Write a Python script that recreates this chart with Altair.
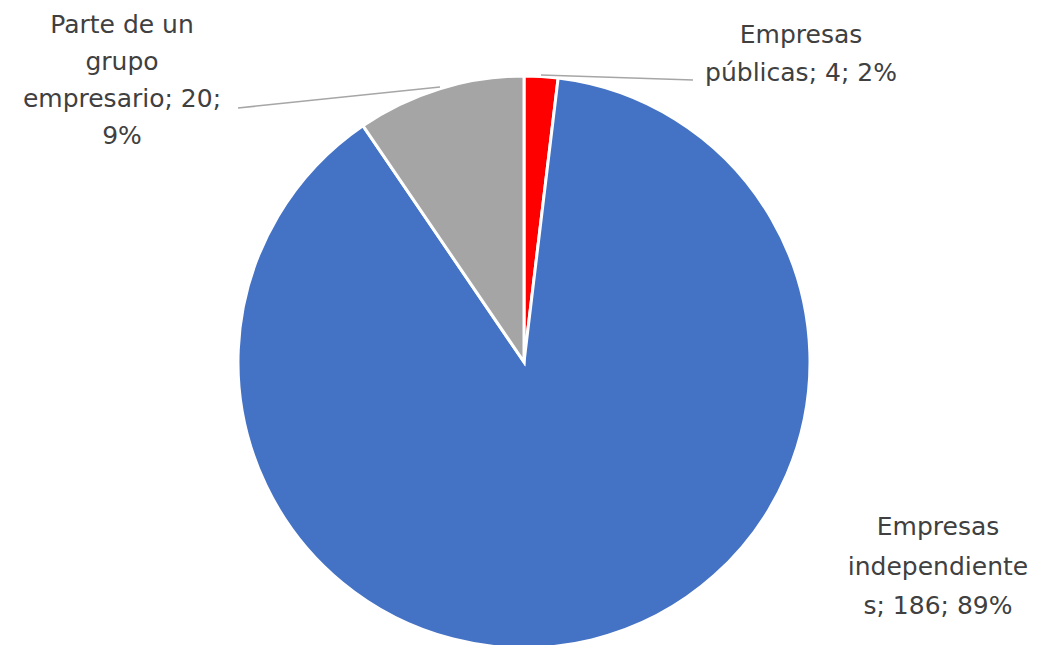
import altair as alt
import pandas as pd

# Data
categories = ["Empresas públicas", "Empresas independientes", "Parte de un grupo empresario"]
values = [4, 186, 20]
percents = ["2%", "89%", "9%"]
colors = ["#FF0000", "#4472C4", "#A5A5A5"]
label_texts = [
    "Empresas\npúblicas; 4; 2%",
    "Empresas\nindependiente\ns; 186; 89%",
    "Parte de un\ngrupo\nempresario; 20;\n9%",
]

# Layout (pixels in plot area; plot origin is page (8, 8))
W, H = 1035, 637
CX, CY, R = 516, 354, 286
label_x = [793, 930, 114]
label_y = [15, 507, 5]
label_lh = [38, 39.5, 37]
line_x1 = [533, None, 230]
line_y1 = [67, None, 100]
line_x2 = [685, None, 432]
line_y2 = [72, None, 79]

pie_df = pd.DataFrame({"cat": categories, "value": values, "order": [0, 1, 2]})
lab_df = pd.DataFrame({"text": label_texts, "lx": label_x, "ly": label_y, "lh": label_lh})
lines_df = pd.DataFrame({"x1": line_x1, "y1": line_y1, "x2": line_x2, "y2": line_y2}).dropna()

pie = alt.Chart(pie_df).mark_arc(outerRadius=R, stroke="white", strokeWidth=3).encode(
    theta=alt.Theta("value:Q", stack=True),
    order=alt.Order("order:Q"),
    color=alt.Color("cat:N", scale=alt.Scale(domain=categories, range=colors), legend=None),
    x=alt.value(CX),
    y=alt.value(CY),
)

leaders = alt.Chart(lines_df).mark_rule(color="#A6A6A6", strokeWidth=1.5).encode(
    x=alt.X("x1:Q", scale=None),
    y=alt.Y("y1:Q", scale=None),
    x2="x2:Q",
    y2="y2:Q",
)

label_layers = []
for i in range(len(label_texts)):
    label_layers.append(
        alt.Chart(lab_df.iloc[[i]]).mark_text(
            font="DejaVu Sans", fontSize=25, color="#404040", lineBreak="\n",
            lineHeight=label_lh[i], align="center", baseline="top",
        ).encode(
            x=alt.X("lx:Q", scale=None),
            y=alt.Y("ly:Q", scale=None),
            text="text:N",
        )
    )

chart = alt.layer(pie, leaders, *label_layers).properties(
    width=W, height=H, autosize=alt.AutoSizeParams(type="none"), padding=0
).configure_view(stroke=None)

chart.save("out.html", embed_options={"renderer": "svg", "actions": False})
